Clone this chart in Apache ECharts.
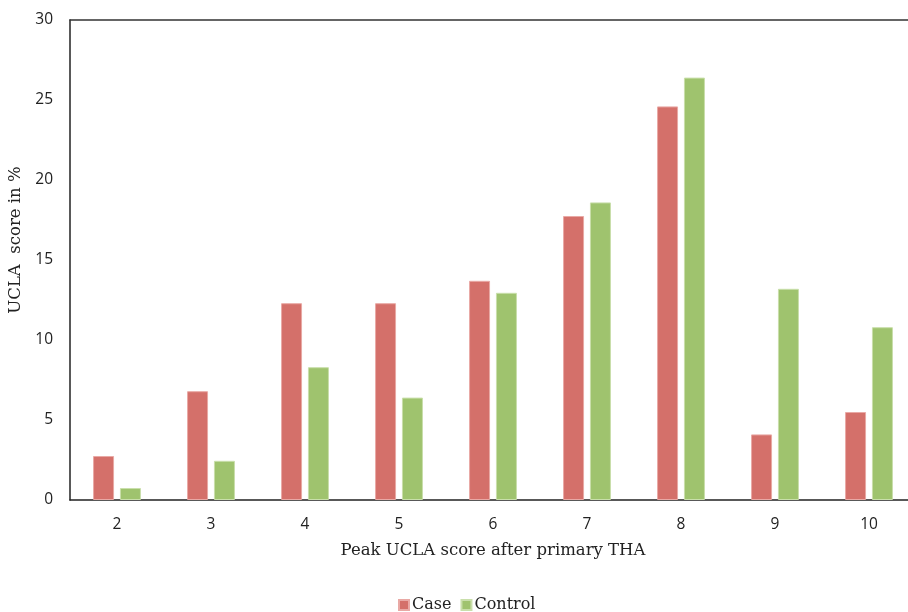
<!DOCTYPE html>
<html>
<head>
<meta charset="utf-8">
<script src="https://cdn.jsdelivr.net/npm/echarts@6/dist/echarts.min.js"></script>
<style>
  html, body { margin: 0; padding: 0; background: #fff; }
  #chart { width: 908px; height: 612px; }
</style>
</head>
<body>
<div id="chart"></div>
<script>
// peak UCLA score categories
const scores = ['2', '3', '4', '5', '6', '7', '8', '9', '10'];
// share of patients in %
const caseValues = [2.75, 6.8, 12.3, 12.3, 13.7, 17.75, 24.6, 4.1, 5.5];
const controlValues = [0.75, 2.45, 8.3, 6.4, 12.95, 18.6, 26.4, 13.2, 10.8];
const yTicks = [0, 5, 10, 15, 20, 25, 30];

const serif = '"DejaVu Serif", "Liberation Serif", serif';
const sans = '"Open Sans", "Liberation Sans", sans-serif';

const chart = echarts.init(document.getElementById('chart'));
chart.setOption({
  animation: false,
  grid: { left: 70, top: 20, width: 846, height: 480, outerBoundsMode: 'none' },
  legend: {
    left: 393,
    top: 592,
    itemWidth: 10,
    itemHeight: 10,
    itemGap: 9,
    icon: 'rect',
    textStyle: { fontFamily: serif, fontSize: 16, color: '#222', padding: [0, 0, 0, -2] },
    data: ['Case', 'Control'],
  },
  xAxis: [
    {
      type: 'category',
      data: scores,
      name: 'Peak UCLA score after primary THA',
      nameLocation: 'middle',
      nameGap: 42,
      nameTextStyle: { fontFamily: serif, fontSize: 16.5, color: '#222' },
      axisLine: { lineStyle: { color: '#222', width: 1.5 } },
      axisTick: { show: false },
      axisLabel: { fontFamily: sans, fontSize: 15.5, color: '#222', margin: 17 },
    },
    {
      // top frame line only
      type: 'category',
      data: scores,
      position: 'top',
      axisLine: { lineStyle: { color: '#333', width: 1.5 } },
      axisTick: { show: false },
      axisLabel: { show: false },
    },
  ],
  yAxis: {
    type: 'value',
    min: yTicks[0],
    max: yTicks[yTicks.length - 1],
    interval: 5,
    name: 'UCLA  score in %',
    nameLocation: 'middle',
    nameGap: 42,
    nameTextStyle: { fontFamily: serif, fontSize: 16.5, color: '#222', padding: [0, 0, 0, 40] },
    axisLine: { show: true, lineStyle: { color: '#222', width: 1.5 } },
    axisTick: { show: false },
    splitLine: { show: false },
    axisLabel: { fontFamily: sans, fontSize: 15.5, color: '#222', margin: 17 },
  },
  series: [
    {
      name: 'Case',
      type: 'bar',
      data: caseValues,
      barWidth: 21,
      barGap: '28%',
      itemStyle: { color: '#D4706A', borderColor: '#E9A9A5', borderWidth: 1 },
    },
    {
      name: 'Control',
      type: 'bar',
      data: controlValues,
      barWidth: 21,
      itemStyle: { color: '#9FC36E', borderColor: '#C9DFAB', borderWidth: 1 },
    },
  ],
});
</script>
</body>
</html>
